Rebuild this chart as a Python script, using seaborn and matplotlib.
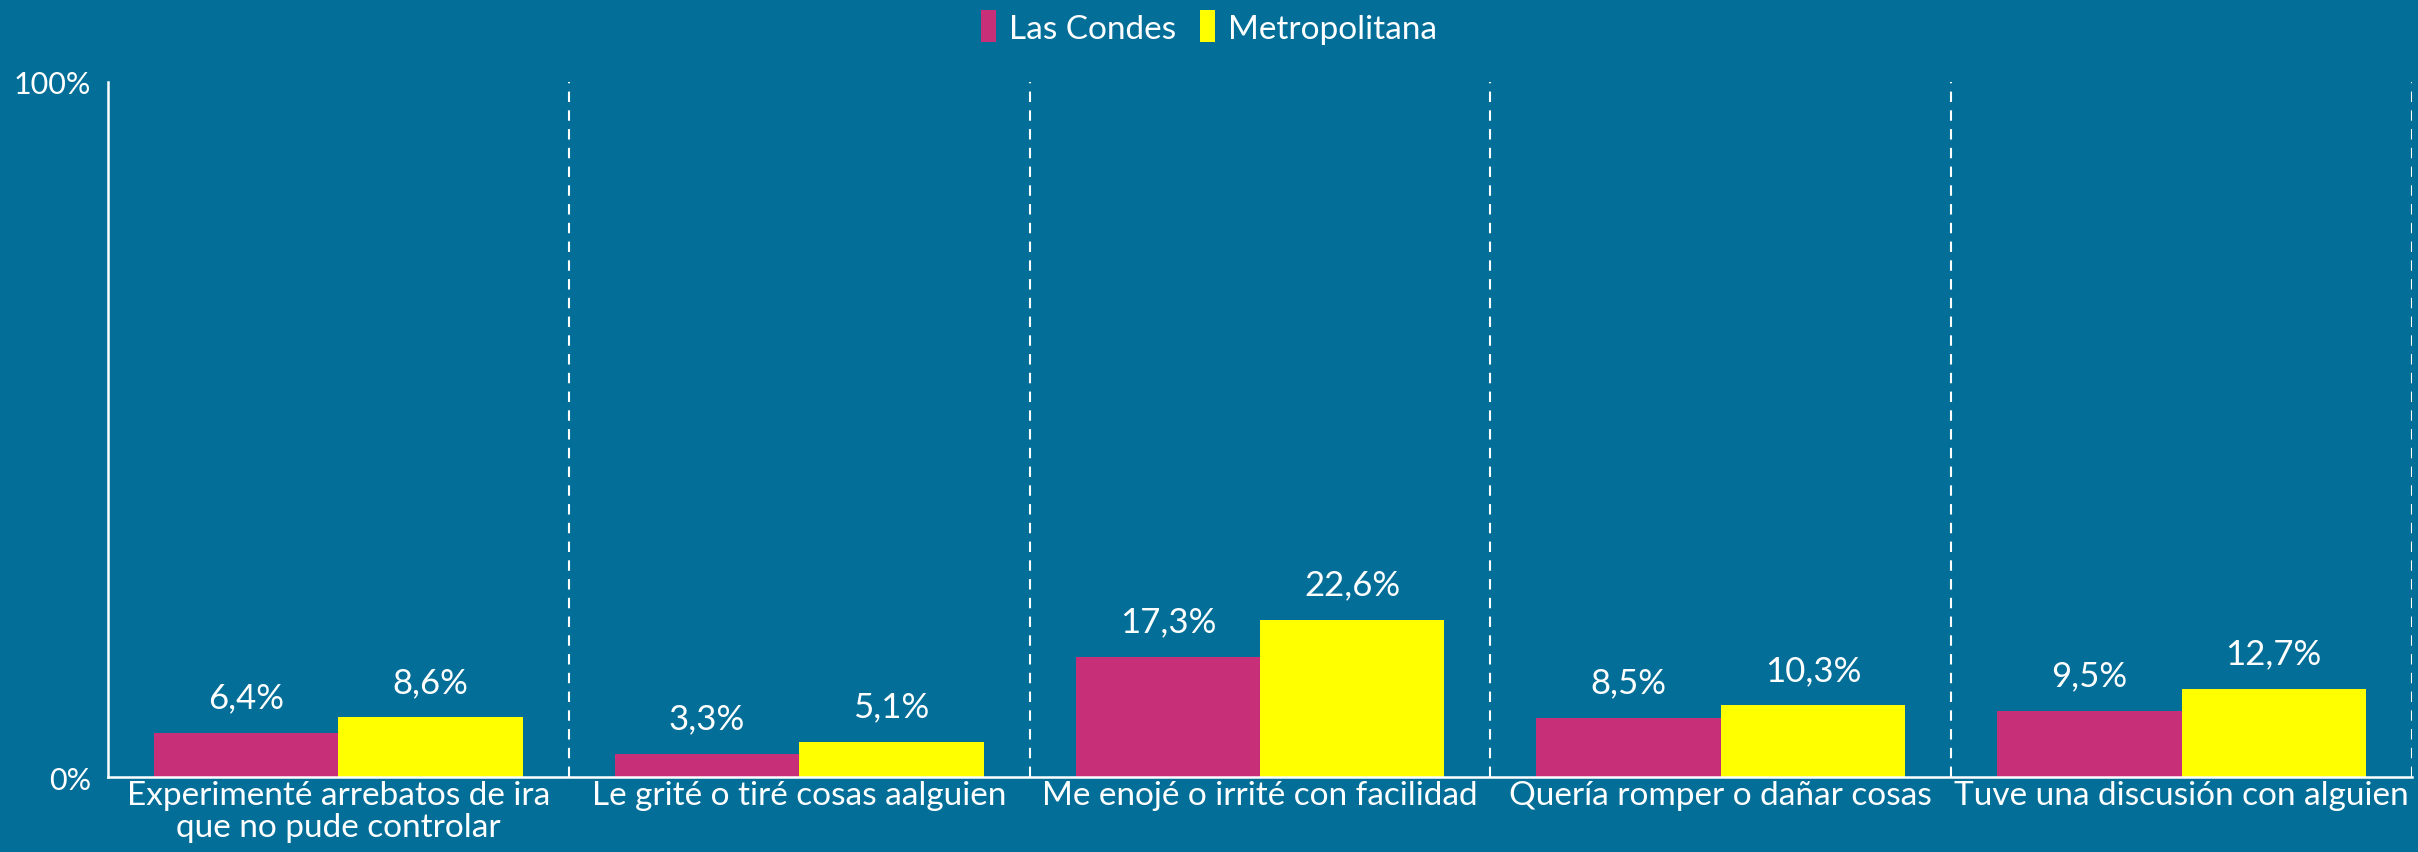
import pandas as pd
import matplotlib.pyplot as plt
import seaborn as sns
from matplotlib.patches import Patch

categories = ['Experimenté arrebatos de ira\nque no pude controlar',
              'Le grité o tiré cosas aalguien',
              'Me enojé o irrité con facilidad',
              'Quería romper o dañar cosas',
              'Tuve una discusión con alguien']
las_condes = [6.4, 3.3, 17.3, 8.5, 9.5]
metropolitana = [8.6, 5.1, 22.6, 10.3, 12.7]
series = ['Las Condes', 'Metropolitana']

bg = '#036F98'
colors = ['#C82F79', '#FFFF00']

df = pd.DataFrame({
    'cat': categories * 2,
    'serie': [series[0]] * 5 + [series[1]] * 5,
    'valor': las_condes + metropolitana,
})

sns.set_style('white')
plt.rcParams['font.family'] = ['Lato', 'DejaVu Sans']

fig = plt.figure(figsize=(24.18, 8.53), dpi=100, facecolor=bg)
ax = fig.add_axes([0.0447, 0.0879, 0.9528, 0.8148], facecolor=bg)

sns.barplot(data=df, x='cat', y='valor', hue='serie', palette=colors,
            width=0.8, gap=0, ax=ax, saturation=1, legend=False, linewidth=0)

# value labels
for cont in ax.containers:
    labels = ['{:.1f}%'.format(v.get_height()).replace('.', ',') for v in cont]
    ax.bar_label(cont, labels=labels, padding=14, color='white', fontsize=25)

ax.set_xlim(-0.5, 4.5)
ax.set_ylim(0, 100)
ax.set_xlabel('')
ax.set_ylabel('')

# separators
for xv in [0.5, 1.5, 2.5, 3.5, 4.5]:
    ax.axvline(xv, color='white', lw=1.5, ls=(0, (5, 4)))

for s in ['top', 'right']:
    ax.spines[s].set_visible(False)
ax.spines['left'].set_color('white')
ax.spines['left'].set_linewidth(1.8)
ax.spines['bottom'].set_color('white')
ax.spines['bottom'].set_linewidth(1.8)

ax.set_yticks([0, 100])
ax.set_yticklabels(['0%', '100%'])
ax.tick_params(axis='y', length=0, pad=12, colors='white', labelsize=22)

ax.set_xticks(range(5))
ax.set_xticklabels(categories, linespacing=1.1)
ax.set_xticks([-0.5, 0.5, 1.5, 2.5, 3.5, 4.5], minor=True)
ax.tick_params(axis='x', which='major', length=0, pad=2, colors='white', labelsize=24)
ax.tick_params(axis='x', which='minor', length=14, width=1.8, color='white', direction='out')

handles = [Patch(facecolor=c, edgecolor='none') for c in colors]
fig.legend(handles, series, loc='upper center', bbox_to_anchor=(0.5, 1.022), ncol=2,
           frameon=False, fontsize=24, labelcolor='white', handlelength=0.45,
           handleheight=1.1, handletextpad=0.4, columnspacing=0.7)

fig.savefig('out.png', facecolor=bg)
